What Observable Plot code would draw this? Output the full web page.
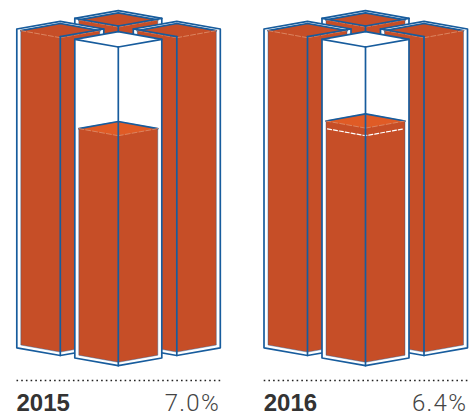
<!DOCTYPE html>
<html>
<head>
<meta charset="utf-8">
<script src="https://cdn.jsdelivr.net/npm/d3@7"></script>
<script src="https://cdn.jsdelivr.net/npm/@observablehq/plot@0.6"></script>
<style>
  html, body { margin: 0; padding: 0; background: #fff; }
  svg { display: block; }
  .rate-label { letter-spacing: 1.3px; }
</style>
</head>
<body>
<div id="chart"></div>
<script>
// Unemployment rate per year; the empty part of the front column grows with it.
const years = ["2015", "2016"];
const rates = [7.0, 6.4];
const rateLabels = ["7.0%", "6.4%"];
const previousRates = [null, 7.0];

const BLUE = "#175c9d";
const ORANGE = "#c64e27";
const SURFACE = "#e05b25";
const PALE = "#dc8460";

// Isometric column model, in plot units.
const panelOffsets = [0, 247.2];
const glass = { half: 43.5, drop: 7.7 };
const fill = { half: 39.5, drop: 7.1, inset: 3.4 };
const pxPerPoint = 12.67;

// Rear columns are always full; the open lower edge is the one facing outward.
const rearColumns = [
  { cx: 117.8, top: 25.5, bottom: 345, open: null },
  { cx: 59.8, top: 36.2, bottom: 355, open: "left" },
  { cx: 176.3, top: 36.2, bottom: 355, open: "right" }
];
const frontColumn = { cx: 117.8, top: 46.5, bottom: 365.2 };

const marks = [];
const poly = (pts, o) => marks.push(Plot.line(pts, {
  x: (d) => d[0],
  y: (d) => d[1],
  curve: "linear",
  ...o
}));
const outline = { stroke: BLUE, strokeWidth: 1.7 };
const liquidEdge = { stroke: BLUE, strokeWidth: 0.8, strokeOpacity: 0.5 };
const paleEdge = { stroke: PALE, strokeWidth: 1, strokeDasharray: "5 2" };

// Diamond around a column axis, with y as the front vertex.
const diamond = (cx, y, s) => ({
  back: [[cx - s.half, y - s.drop], [cx, y - 2 * s.drop], [cx + s.half, y - s.drop]],
  left: [[cx - s.half, y - s.drop], [cx, y]],
  right: [[cx, y], [cx + s.half, y - s.drop]]
});

const hull = (cx, top, bottom, s) => [
  [cx - s.half, top - s.drop],
  [cx, top - 2 * s.drop],
  [cx + s.half, top - s.drop],
  [cx + s.half, bottom - s.drop],
  [cx, bottom],
  [cx - s.half, bottom - s.drop],
  [cx - s.half, top - s.drop]
];

function drawSurface(cx, y, colour) {
  const d = diamond(cx, y, fill);
  poly([...d.back, [cx, y], d.back[0]], { fill: colour });
  poly(d.back, outline);
  poly(d.left, paleEdge);
  poly(d.right, paleEdge);
}

function drawRear(c, dx) {
  const cx = c.cx + dx;
  const liquidTop = c.top + 1;
  poly(hull(cx, c.top, c.bottom, glass), { fill: "white", ...outline });
  poly(hull(cx, liquidTop, c.bottom - fill.inset, fill), { fill: ORANGE, ...liquidEdge });
  drawSurface(cx, liquidTop, ORANGE);
  const d = diamond(cx, c.top, glass);
  if (c.open !== "left") poly(d.left, outline);
  if (c.open !== "right") poly(d.right, outline);
  poly([[cx, c.top], [cx, c.bottom]], outline);
}

function drawFront(i, dx) {
  const cx = frontColumn.cx + dx;
  const { top, bottom } = frontColumn;
  const level = top + rates[i] * pxPerPoint;
  poly(hull(cx, top, bottom, glass), { fill: "white", ...outline });
  poly(hull(cx, level, bottom - fill.inset, fill), { fill: ORANGE, ...liquidEdge });
  drawSurface(cx, level, SURFACE);
  if (previousRates[i] != null) {
    const was = diamond(cx, top + previousRates[i] * pxPerPoint, { half: fill.half - 1.5, drop: fill.drop - 0.3 });
    poly([...was.left, was.right[1]], { stroke: "white", strokeWidth: 1.2, strokeDasharray: "4 2" });
  }
  const d = diamond(cx, top, glass);
  poly(d.left, outline);
  poly(d.right, outline);
  poly([[cx, top], [cx, bottom]], outline);
}

years.forEach((year, i) => {
  const dx = panelOffsets[i];
  rearColumns.forEach((c) => drawRear(c, dx));
  drawFront(i, dx);
  marks.push(Plot.ruleY([380], {
    x1: 16.5 + dx,
    x2: 221 + dx,
    stroke: "#222",
    strokeWidth: 1.7,
    strokeDasharray: "1.6 3.1"
  }));
  marks.push(Plot.text([year], {
    x: 16 + dx,
    y: 410.3,
    text: (d) => d,
    textAnchor: "start",
    lineAnchor: "bottom",
    fontFamily: "Liberation Sans",
    fontWeight: 700,
    fontSize: 24,
    fill: "#333"
  }));
  marks.push(Plot.text([rateLabels[i]], {
    x: 219.5 + dx,
    y: 410.3,
    text: (d) => d,
    textAnchor: "end",
    lineAnchor: "bottom",
    className: "rate-label",
    fontFamily: "Roboto",
    fontWeight: 300,
    fontSize: 24,
    fill: "#444"
  }));
});

document.getElementById("chart").append(Plot.plot({
  width: 476,
  height: 412,
  margin: 0,
  x: { domain: [0, 476], range: [0, 476], axis: null },
  y: { domain: [412, 0], range: [412, 0], axis: null },
  marks
}));
</script>
</body>
</html>
